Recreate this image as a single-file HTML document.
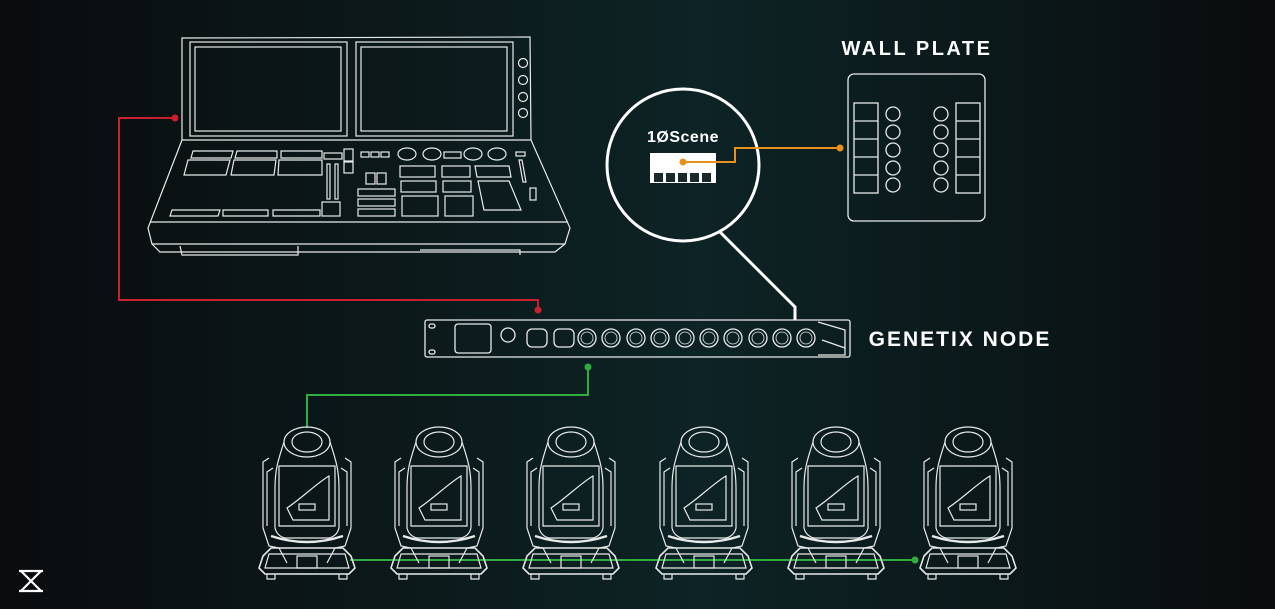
<!DOCTYPE html>
<html><head><meta charset="utf-8"><style>
html,body{margin:0;padding:0;width:1275px;height:609px;overflow:hidden;background:#0b0e10}
svg{display:block}
text{font-family:"Liberation Sans",sans-serif;fill:#fff;font-weight:bold}
</style></head><body>
<svg width="1275" height="609" viewBox="0 0 1275 609">
<defs>
<linearGradient id="bg" x1="0" x2="1" y1="0" y2="0">
<stop offset="0" stop-color="#0a0c0e"/><stop offset="0.25" stop-color="#0b1618"/>
<stop offset="0.55" stop-color="#0d2325"/><stop offset="0.8" stop-color="#0b1719"/><stop offset="1" stop-color="#0a0c0d"/>
</linearGradient>
<g id="fx" fill="none" stroke="#e8eaea" stroke-width="1.2">
<ellipse cx="0" cy="14" rx="23" ry="15"/><ellipse cx="0" cy="14" rx="15" ry="10"/>
<path d="M-23 14 C-28 30 -32 40 -32 60 L-32 100 Q-30 108 -22 110 L22 110 Q30 108 32 100 L32 60 C32 40 28 30 23 14"/>
<path d="M-28 38 L28 38 L28 98 L-28 98 Z"/>
<path d="M-20 80 C-5 70 10 55 22 48 L22 92 L-14 92 Z"/>
<rect x="-8" y="76" width="16" height="6"/>
<path d="M-36 108 Q0 120 36 108" stroke-width="2.5"/>
<path d="M-38 30 L-44 34 L-44 100 L-38 118 L-28 120 L-20 135 M38 30 L44 34 L44 100 L38 118 L28 120 L20 135"/>
<path d="M-34 40 L-40 44 L-40 98 M34 40 L40 44 L40 98"/>
<path d="M-44 128 L-36 120 L36 120 L44 128 L48 140 L42 146 L-42 146 L-48 140 Z" stroke-width="1.6"/>
<path d="M-38 126 L38 126 L42 140 L-42 140 Z"/>
<rect x="-10" y="128" width="20" height="12"/>
<path d="M-40 146 L-40 151 L-32 151 L-32 146 M40 146 L40 151 L32 151 L32 146"/>
</g>
<g id="xlr"><circle r="9" fill="none" stroke="#e8eaea" stroke-width="1.3"/><circle r="6" fill="none" stroke="#e8eaea" stroke-width="0.8"/></g>
</defs>
<rect width="1275" height="609" fill="url(#bg)"/>

<g fill="none" stroke="#e8eaea" stroke-width="1.2">
<path d="M182 38 L530 37 L531 140 L182 140 Z"/>
<rect x="190" y="42" width="157" height="94"/><rect x="195" y="47" width="146" height="84"/>
<rect x="356" y="42" width="157" height="94"/><rect x="361" y="47" width="146" height="84"/>
<circle cx="523" cy="63" r="4.5"/><circle cx="523" cy="80" r="4.5"/><circle cx="523" cy="97" r="4.5"/><circle cx="523" cy="113" r="4.5"/>
<path d="M182 140 L148 228 L152 244 L565 244 L570 228 L531 140"/>
<path d="M150 222 L568 222 M152 244 L160 252 L555 252 L565 244"/>
<path d="M180 246 L182 255 L298 255 L298 246 M420 250 L520 250 L520 255"/>
<path d="M193 151 L233 151 L231 158 L191 158Z M237 151 L277 151 L277 158 L235 158Z M281 151 L322 151 L322 158 L281 158Z"/>
<path d="M188 160 L230 160 L226 175 L184 175Z M234 160 L276 160 L274 175 L231 175Z M279 160 L322 160 L322 175 L278 175Z"/>
<rect x="324" y="153" width="18" height="6"/><rect x="344" y="149" width="9" height="12"/><rect x="344" y="162" width="9" height="11"/>
<rect x="327" y="164" width="3" height="35"/><rect x="335" y="164" width="3" height="35"/>
<rect x="322" y="202" width="18" height="14"/>
<rect x="361" y="152" width="8" height="5"/><rect x="371" y="152" width="8" height="5"/><rect x="381" y="152" width="8" height="5"/>
<rect x="366" y="173" width="9" height="11"/><rect x="377" y="173" width="9" height="11"/>
<rect x="358" y="189" width="37" height="7"/><rect x="358" y="199" width="37" height="7"/><rect x="358" y="209" width="37" height="7"/>
<ellipse cx="407" cy="154" rx="9" ry="6"/><ellipse cx="432" cy="154" rx="9" ry="6"/><rect x="444" y="152" width="17" height="6"/><ellipse cx="473" cy="154" rx="9" ry="6"/><ellipse cx="497" cy="154" rx="9" ry="6"/>
<rect x="400" y="166" width="35" height="11"/><rect x="401" y="181" width="35" height="11"/><rect x="402" y="196" width="36" height="20"/>
<rect x="442" y="166" width="28" height="11"/><rect x="443" y="181" width="28" height="11"/><rect x="445" y="196" width="28" height="20"/>
<path d="M475 166 L509 166 L511 177 L477 177Z M478 181 L509 181 L521 210 L484 210Z"/>
<rect x="516" y="152" width="9" height="4"/><path d="M519 160 L522 160 L526 182 L523 182Z"/><rect x="530" y="188" width="6" height="12"/>
<path d="M172 210 L220 210 L218 216 L170 216Z M223 210 L268 210 L268 216 L223 216Z M273 210 L320 210 L320 216 L273 216Z"/>
</g>

<polyline points="175,118 119,118 119,300 538,300 538,310" fill="none" stroke="#c8202e" stroke-width="2"/>
<circle cx="175" cy="118" r="3.5" fill="#c8202e"/><circle cx="538" cy="310" r="3.5" fill="#c8202e"/>
<polyline points="588,367 588,395 307,395 307,428" fill="none" stroke="#2fae3f" stroke-width="2"/>
<circle cx="588" cy="367" r="3.5" fill="#2fae3f"/>
<line x1="350" y1="560" x2="915" y2="560" stroke="#2fae3f" stroke-width="2"/>
<circle cx="915" cy="560" r="3.5" fill="#2fae3f"/>

<circle cx="683" cy="165" r="76" fill="none" stroke="#fff" stroke-width="3"/>
<polyline points="720,232 795,307 795,320" fill="none" stroke="#fff" stroke-width="3"/>
<text x="683" y="142" font-size="16" text-anchor="middle" letter-spacing="0.5">1ØScene</text>
<rect x="650" y="153" width="66" height="30" fill="#fff"/>
<g fill="#1a2a2c"><rect x="654" y="173" width="9" height="9"/><rect x="666" y="173" width="9" height="9"/><rect x="678" y="173" width="9" height="9"/><rect x="690" y="173" width="9" height="9"/><rect x="702" y="173" width="9" height="9"/></g>
<polyline points="683,162 735,162 735,148 840,148" fill="none" stroke="#e8911c" stroke-width="2"/>
<circle cx="683" cy="162" r="3.5" fill="#e8911c"/><circle cx="840" cy="148" r="3.5" fill="#e8911c"/>

<text x="917" y="55" font-size="20" text-anchor="middle" letter-spacing="2.5">WALL PLATE</text>
<g fill="none" stroke="#e8eaea" stroke-width="1.3">
<rect x="848" y="74" width="137" height="147" rx="6"/>
<rect x="854" y="103" width="24" height="90"/><rect x="956" y="103" width="24" height="90"/>
<path d="M854 121 H878 M854 139 H878 M854 157 H878 M854 175 H878 M956 121 H980 M956 139 H980 M956 157 H980 M956 175 H980"/>
<circle cx="893" cy="114" r="7"/><circle cx="893" cy="132" r="7"/><circle cx="893" cy="150" r="7"/><circle cx="893" cy="168" r="7"/><circle cx="893" cy="185" r="7"/>
<circle cx="941" cy="114" r="7"/><circle cx="941" cy="132" r="7"/><circle cx="941" cy="150" r="7"/><circle cx="941" cy="168" r="7"/><circle cx="941" cy="185" r="7"/>
</g>

<text x="960" y="346" font-size="21" text-anchor="middle" letter-spacing="2">GENETIX NODE</text>
<g fill="none" stroke="#e8eaea" stroke-width="1.3">
<rect x="425" y="320" width="425" height="37" rx="2"/>
<rect x="455" y="324" width="36" height="29" rx="3"/><circle cx="508" cy="335" r="7"/>
<rect x="429" y="324" width="6" height="4" rx="2"/><rect x="429" y="350" width="6" height="4" rx="2"/>
<rect x="527" y="329" width="20" height="18" rx="5"/><rect x="554" y="329" width="20" height="18" rx="5"/>
<path d="M818 322 L845 330 L845 355 L818 355 M822 340 L845 348"/>
</g>
<g>
<use href="#xlr" x="587" y="338"/><use href="#xlr" x="611" y="338"/><use href="#xlr" x="636" y="338"/><use href="#xlr" x="660" y="338"/><use href="#xlr" x="685" y="338"/><use href="#xlr" x="709" y="338"/><use href="#xlr" x="733" y="338"/><use href="#xlr" x="758" y="338"/><use href="#xlr" x="782" y="338"/><use href="#xlr" x="806" y="338"/>
</g>

<use href="#fx" x="307" y="428"/><use href="#fx" x="439" y="428"/><use href="#fx" x="571" y="428"/>
<use href="#fx" x="704" y="428"/><use href="#fx" x="836" y="428"/><use href="#fx" x="968" y="428"/>

<g stroke="#fff" stroke-width="2.2" fill="none"><path d="M19 571 H43 M19 591 H43 M21 571 L41 591 M41 571 L21 591"/></g>
</svg>
</body></html>
